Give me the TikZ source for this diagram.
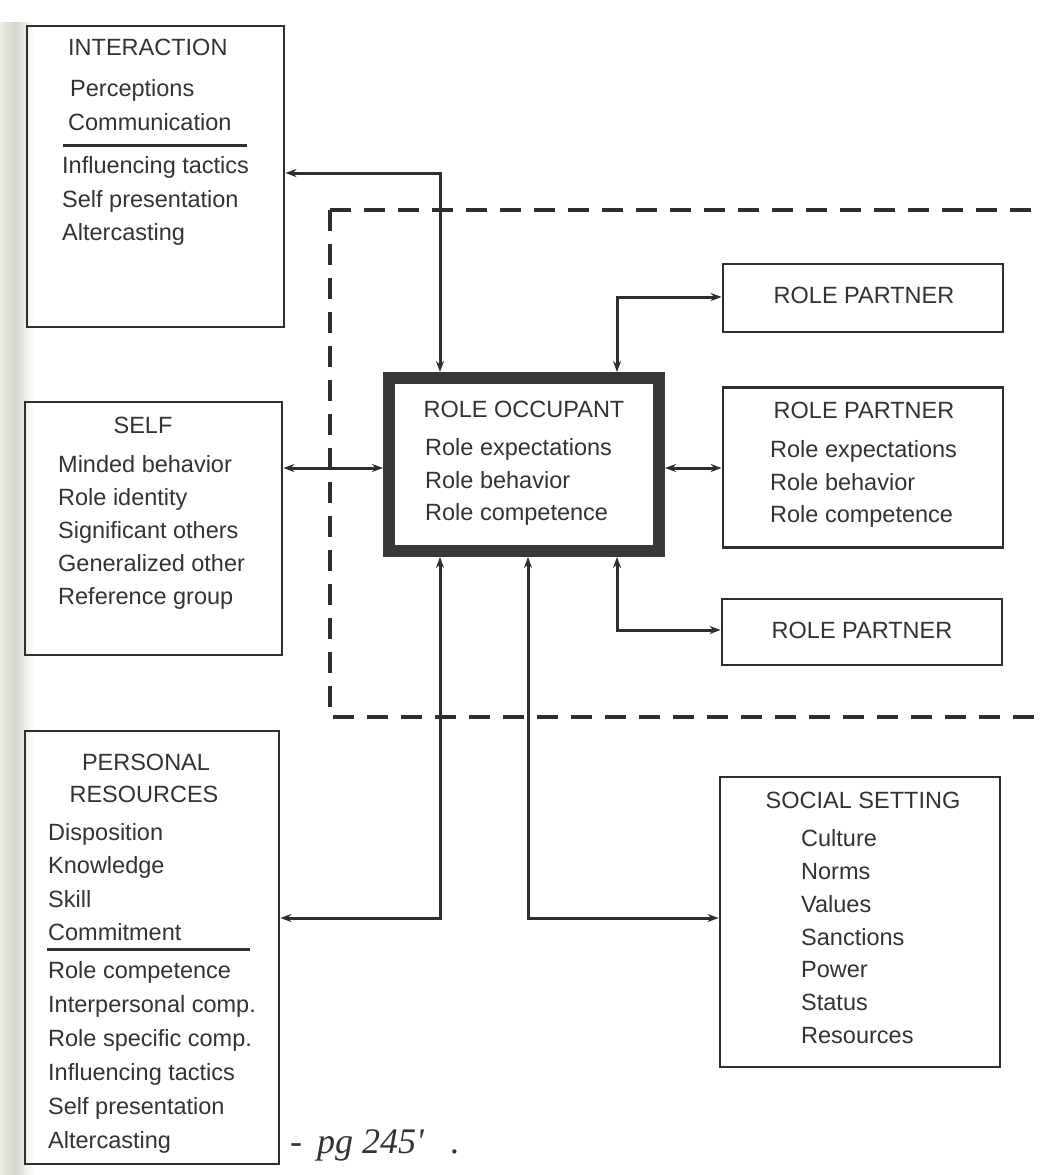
\documentclass[tikz,border=0pt]{standalone}
\usepackage{fontspec}
\setmainfont{Liberation Sans}
\newfontfamily\handfont{Liberation Serif}
\usetikzlibrary{arrows.meta}
\definecolor{ink}{HTML}{2E2E2E}
\definecolor{txtc}{HTML}{333333}
\definecolor{edgeA}{HTML}{EEEEE7}
\definecolor{edgeB}{HTML}{D5D5CD}
\newcommand{\lblfont}{\fontsize{23.5}{34}\selectfont}

\begin{document}
\begin{tikzpicture}[x=1pt,y=-1pt,
  box/.style={draw=ink, line width=2.8pt, inner sep=0pt},
  occbox/.style={draw=black!78, line width=12pt, inner sep=0pt},
  tl/.style={anchor=base west, inner sep=0pt, text=txtc, font=\lblfont},
  tc/.style={anchor=base, inner sep=0pt, text=txtc, font=\lblfont},
  divline/.style={draw=ink, line width=3pt},
  zoneline/.style={draw=ink, line width=3.4pt, dash pattern=on 21pt off 13pt},
  link/.style={draw=ink, line width=3pt,
    {Stealth[length=11pt,width=8pt]}-{Stealth[length=11pt,width=8pt]}},
]
\useasboundingbox (0,0) rectangle (1042,1175);
\fill[white] (0,0) rectangle (1042,1175);

% shadow of the page binding on the left
\shade[left color=edgeA, right color=edgeB] (0,22) rectangle (14,1175);
\shade[left color=edgeB, right color=white] (14,22) rectangle (34,1175);

% role set boundary (open to the right)
\draw[zoneline] (330,210) -- (1042,210);
\draw[zoneline] (330,210) -- (330,717) -- (1042,717);

% boxes
\node[box, minimum width=257pt, minimum height=301pt] (inter) at (155.5,176.5) {};
\node[box, minimum width=257pt, minimum height=253pt] (self) at (153.5,528.5) {};
\node[box, minimum width=254pt, minimum height=433pt] (pers) at (152,947.5) {};
\node[occbox, minimum width=270pt, minimum height=173pt] (occ) at (524,464.5) {};
\node[box, minimum width=280pt, minimum height=68pt] (rp1) at (863,298) {};
\node[box, minimum width=280pt, minimum height=160pt] (rp2) at (863,467.5) {};
\node[box, minimum width=280pt, minimum height=66pt] (rp3) at (862,632) {};
\node[box, minimum width=280pt, minimum height=290pt] (soc) at (860,922) {};

% INTERACTION
\node[tl] (iH) at (68,55) {INTERACTION};
\node[tl] (i1) at (70,96) {Perceptions};
\node[tl] (i2) at (68,130) {Communication};
\draw[divline] (63,145) -- (247,145);
\node[tl] (i3) at (62,173) {Influencing tactics};
\node[tl] (i4) at (62,207) {Self presentation};
\node[tl] (i5) at (62,240) {Altercasting};

% SELF
\node[tc] (sH) at (143,433) {SELF};
\node[tl] (s1) at (58,472) {Minded behavior};
\node[tl] (s2) at (58,505) {Role identity};
\node[tl] (s3) at (58,538) {Significant others};
\node[tl] (s4) at (58,571) {Generalized other};
\node[tl] (s5) at (58,604) {Reference group};

% PERSONAL RESOURCES
\node[tc] (pH1) at (146,770) {PERSONAL};
\node[tc] (pH2) at (144,802) {RESOURCES};
\node[tl] (p1) at (48,840) {Disposition};
\node[tl] (p2) at (48,873) {Knowledge};
\node[tl] (p3) at (48,907) {Skill};
\node[tl] (p4) at (48,940) {Commitment};
\draw[divline] (47,949) -- (250,949);
\node[tl] (p5) at (48,978) {Role competence};
\node[tl] (p6) at (48,1012) {Interpersonal comp.};
\node[tl] (p7) at (48,1046) {Role specific comp.};
\node[tl] (p8) at (48,1080) {Influencing tactics};
\node[tl] (p9) at (48,1114) {Self presentation};
\node[tl] (p10) at (48,1148) {Altercasting};

% ROLE OCCUPANT
\node[tc] (oH) at (524,417) {ROLE OCCUPANT};
\node[tl] (o1) at (425,455) {Role expectations};
\node[tl] (o2) at (425,488) {Role behavior};
\node[tl] (o3) at (425,520) {Role competence};

% ROLE PARTNERS
\node[tc] (r1H) at (864,303) {ROLE PARTNER};
\node[tc] (r2H) at (864,418) {ROLE PARTNER};
\node[tl] (r21) at (770,457) {Role expectations};
\node[tl] (r22) at (770,490) {Role behavior};
\node[tl] (r23) at (770,522) {Role competence};
\node[tc] (r3H) at (862,638) {ROLE PARTNER};

% SOCIAL SETTING
\node[tc] (cH) at (863,808) {SOCIAL SETTING};
\node[tl] (c1) at (801,846) {Culture};
\node[tl] (c2) at (801,879) {Norms};
\node[tl] (c3) at (801,912) {Values};
\node[tl] (c4) at (801,945) {Sanctions};
\node[tl] (c5) at (801,977) {Power};
\node[tl] (c6) at (801,1010) {Status};
\node[tl] (c7) at (801,1043) {Resources};

% handwritten page note
\node[anchor=base west, inner sep=0pt, text=txtc, font=\handfont\itshape\fontsize{36}{36}\selectfont]
  (note) at (290,1153) {-\, pg 245'\,\,\, .};

% connector bends
\coordinate (jI) at (440,173);
\coordinate (jS) at (330,468);
\coordinate (jR1) at (617,297);
\coordinate (jR2) at (690,468);
\coordinate (jR3) at (617,630);
\coordinate (jP) at (440,918);
\coordinate (jM) at (528,918);

% connectors
\draw[link] (inter.east |- jI) -| (occ.north -| jI);
\draw[link] (self.east |- jS) -- (occ.west |- jS);
\draw[link] (occ.north -| jR1) |- (rp1.west |- jR1);
\draw[link] (occ.east |- jR2) -- (rp2.west |- jR2);
\draw[link] (occ.south -| jR3) |- (rp3.west |- jR3);
\draw[link] (occ.south -| jP) |- (pers.east |- jP);
\draw[link] (occ.south -| jM) |- (soc.west |- jM);
\end{tikzpicture}
\end{document}
